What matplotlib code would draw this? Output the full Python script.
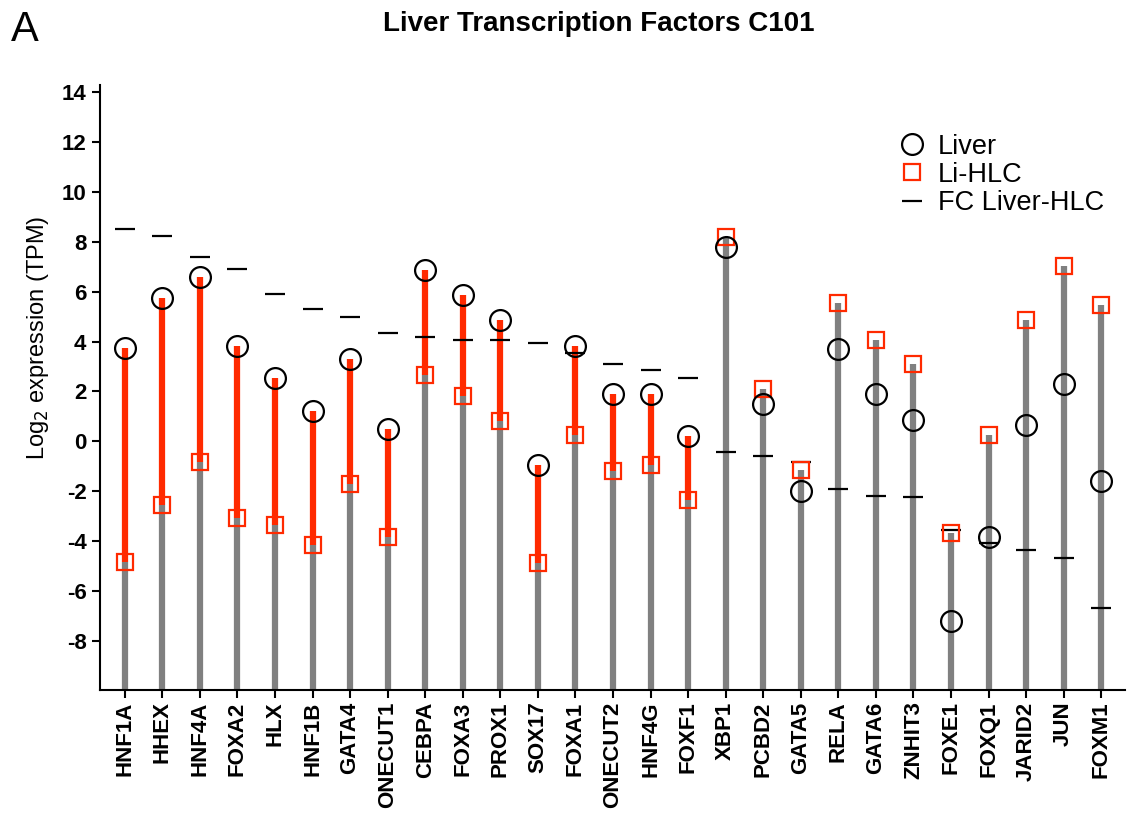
import matplotlib.pyplot as plt
import numpy as np

plt.rcParams['font.family'] = ['Liberation Sans', 'DejaVu Sans']
plt.rcParams['axes.unicode_minus'] = False

genes = ['HNF1A', 'HHEX', 'HNF4A', 'FOXA2', 'HLX', 'HNF1B', 'GATA4', 'ONECUT1',
         'CEBPA', 'FOXA3', 'PROX1', 'SOX17', 'FOXA1', 'ONECUT2', 'HNF4G', 'FOXF1',
         'XBP1', 'PCBD2', 'GATA5', 'RELA', 'GATA6', 'ZNHIT3', 'FOXE1', 'FOXQ1',
         'JARID2', 'JUN', 'FOXM1']
liver = [3.73, 5.75, 6.6, 3.8, 2.55, 1.2, 3.3, 0.5,
         6.85, 5.85, 4.85, -0.95, 3.8, 1.9, 1.9, 0.2,
         7.8, 1.5, -2.0, 3.7, 1.9, 0.85, -7.2, -3.85,
         0.65, 2.3, -1.6]
hlc = [-4.83, -2.55, -0.85, -3.1, -3.35, -4.15, -1.7, -3.85,
       2.65, 1.8, 0.8, -4.9, 0.25, -1.2, -0.95, -2.35,
       8.2, 2.1, -1.15, 5.55, 4.05, 3.1, -3.7, 0.25,
       4.85, 7.05, 5.45]
fc = [8.5, 8.25, 7.4, 6.9, 5.9, 5.3, 5.0, 4.35,
      4.2, 4.05, 4.05, 3.95, 3.55, 3.1, 2.85, 2.55,
      -0.45, -0.6, -0.85, -1.9, -2.2, -2.25, -3.55, -4.1,
      -4.35, -4.7, -6.7]

ymin = -10
x = np.arange(len(genes))
liver = np.array(liver)
hlc = np.array(hlc)

fig = plt.figure(figsize=(11.32, 8.16), dpi=100)
ax = fig.add_axes([0.088, 0.154, 0.906, 0.742])

gray = '#808080'
red = '#ff2a00'
lo = np.minimum(liver, hlc)
hi = np.maximum(liver, hlc)
# gray stem up to the lower value, red between when liver is higher
ax.vlines(x, ymin, lo, color=gray, lw=4.5, zorder=1)
up = liver > hlc
ax.vlines(x[up], lo[up], hi[up], color=red, lw=4.5, zorder=2)
ax.vlines(x[~up], lo[~up], hi[~up], color=gray, lw=4.5, zorder=1)

ax.plot(x, fc, ls='none', marker='_', ms=14, mew=1.6, color='black', zorder=3,
        label='FC Liver-HLC')
ax.plot(x, hlc, ls='none', marker='s', ms=12, mew=1.6, mec=red, mfc='none',
        zorder=4, label='Li-HLC')
ax.plot(x, liver, ls='none', marker='o', ms=15, mew=1.6, mec='black', mfc='none',
        zorder=5, label='Liver')

ax.set_xlim(-0.67, len(genes) - 1 + 0.64)
ax.set_ylim(ymin, 14.3)
ax.set_yticks(np.arange(-8, 15, 2))
ax.set_xticks(x)
ax.set_xticklabels(genes, rotation=90, fontsize=16, fontweight='bold')
for lab in ax.get_yticklabels():
    lab.set_fontweight('bold')
    lab.set_fontsize(16)
ax.tick_params(direction='out', length=6, width=1.5)
ax.tick_params(axis='x', pad=2)
for s in ['top', 'right']:
    ax.spines[s].set_visible(False)
for s in ['left', 'bottom']:
    ax.spines[s].set_linewidth(1.5)

ax.set_ylabel('Log$_2$ expression (TPM)', fontsize=17)
ax.yaxis.set_label_coords(-0.047, 0.583)

h, l = ax.get_legend_handles_labels()
ax.legend(h[::-1], l[::-1], loc='upper right', bbox_to_anchor=(0.997, 0.866),
          bbox_transform=fig.transFigure, frameon=False, fontsize=19.5,
          handletextpad=0.4, labelspacing=0.08, handlelength=1.1)

fig.text(0.529, 0.971, 'Liver Transcription Factors C101', ha='center', va='center',
         fontsize=20, fontweight='bold')
fig.text(0.01, 0.963, 'A', ha='left', va='center', fontsize=30)

fig.savefig('out.png', dpi=100)
